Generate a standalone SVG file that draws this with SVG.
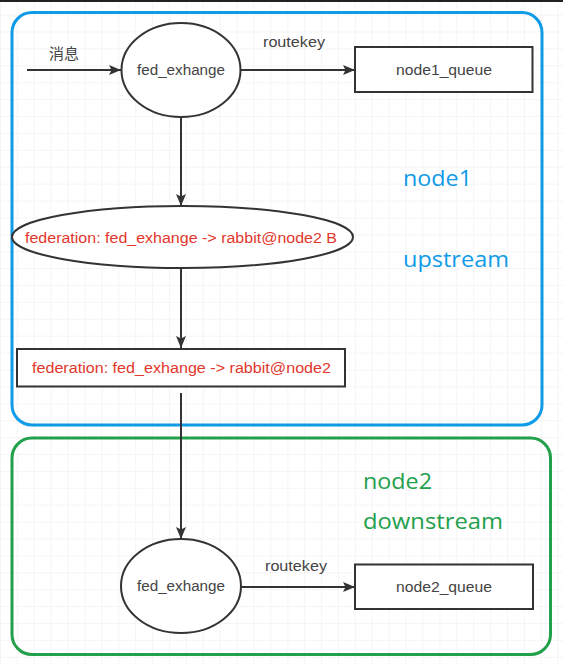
<svg xmlns="http://www.w3.org/2000/svg" width="563" height="664" viewBox="0 0 563 664">
  <defs>
    <pattern id="grid" x="1" y="-1.3" width="16.9" height="16.9" patternUnits="userSpaceOnUse">
      <path d="M16.9 0 V16.9 M0 16.9 H16.9" fill="none" stroke="#ececec" stroke-width="1"/>
    </pattern>
    <marker id="arrow" viewBox="0 0 12 10" refX="12" refY="5" markerWidth="12" markerHeight="10" markerUnits="userSpaceOnUse" orient="auto">
      <path d="M0 0 L12 5 L0 10 L2.5 5 Z" fill="#333"/>
    </marker>
    <style>
      .shape { fill: #fff; stroke: #333; stroke-width: 2; }
      .lbl { font-family: "Liberation Sans", Arial, "Noto Sans CJK SC", sans-serif; font-size: 14px; fill: #444; }
      .red { font-family: "Liberation Sans", Arial, sans-serif; font-size: 14px; fill: #e2372c; }
      .big { font-family: "Open Sans", "Noto Sans", sans-serif; font-size: 22px; }
      .edge { fill: none; stroke: #333; stroke-width: 2; marker-end: url(#arrow); }
    </style>
  </defs>
  <rect width="563" height="664" fill="#fff"/>
  <rect width="563" height="664" fill="url(#grid)"/>
  <rect x="0" y="0" width="563" height="2" fill="#222"/>

  <g id="node1-container">
    <rect x="12" y="12.5" width="530" height="412.5" rx="20" ry="20" fill="none" stroke="#0f9be8" stroke-width="3"/>
    <text class="big" x="403" y="186" fill="#0f9be8" textLength="69" lengthAdjust="spacingAndGlyphs">node1</text>
    <text class="big" x="403" y="267" fill="#0f9be8" textLength="106" lengthAdjust="spacingAndGlyphs">upstream</text>
  </g>

  <g id="node2-container">
    <rect x="12" y="438" width="538.5" height="216.5" rx="20" ry="20" fill="none" stroke="#22a04b" stroke-width="3"/>
    <text class="big" x="363" y="489" fill="#22a04b" textLength="69" lengthAdjust="spacingAndGlyphs">node2</text>
    <text class="big" x="363" y="529" fill="#22a04b" textLength="140" lengthAdjust="spacingAndGlyphs">downstream</text>
  </g>

  <g id="connectors">
    <line class="edge" x1="27" y1="70" x2="121" y2="70"/>
    <text class="lbl" x="49" y="59" style="font-size:15px">消息</text>
    <line class="edge" x1="240" y1="70" x2="355" y2="70"/>
    <text class="lbl" x="263" y="47" textLength="62" lengthAdjust="spacingAndGlyphs">routekey</text>
    <line class="edge" x1="181" y1="117" x2="181" y2="206"/>
    <line class="edge" x1="181" y1="268" x2="181" y2="348"/>
    <line class="edge" x1="181" y1="393" x2="181" y2="539"/>
    <line class="edge" x1="241" y1="587" x2="355" y2="587"/>
    <text class="lbl" x="265" y="571" textLength="62" lengthAdjust="spacingAndGlyphs">routekey</text>
  </g>

  <g id="fed-exchange-1">
    <ellipse class="shape" cx="181" cy="70" rx="59.5" ry="47"/>
    <text class="lbl" x="181" y="75" text-anchor="middle" textLength="88" lengthAdjust="spacingAndGlyphs">fed_exhange</text>
  </g>

  <g id="node1-queue">
    <rect class="shape" x="355" y="47" width="177.5" height="45"/>
    <text class="lbl" x="444" y="75" text-anchor="middle" textLength="96" lengthAdjust="spacingAndGlyphs">node1_queue</text>
  </g>

  <g id="federation-ellipse">
    <ellipse class="shape" cx="182.5" cy="237" rx="170.5" ry="31"/>
    <text class="red" x="181" y="243" text-anchor="middle" textLength="312" lengthAdjust="spacingAndGlyphs">federation: fed_exhange -&gt; rabbit@node2 B</text>
  </g>

  <g id="federation-rect">
    <rect class="shape" x="17" y="349" width="328" height="37.5"/>
    <text class="red" x="181.5" y="373" text-anchor="middle" textLength="299" lengthAdjust="spacingAndGlyphs">federation: fed_exhange -&gt; rabbit@node2</text>
  </g>

  <g id="fed-exchange-2">
    <ellipse class="shape" cx="181" cy="586" rx="60" ry="47"/>
    <text class="lbl" x="181" y="591" text-anchor="middle" textLength="88" lengthAdjust="spacingAndGlyphs">fed_exhange</text>
  </g>

  <g id="node2-queue">
    <rect class="shape" x="355" y="564.5" width="178" height="44.5"/>
    <text class="lbl" x="444" y="592" text-anchor="middle" textLength="96" lengthAdjust="spacingAndGlyphs">node2_queue</text>
  </g>
</svg>
